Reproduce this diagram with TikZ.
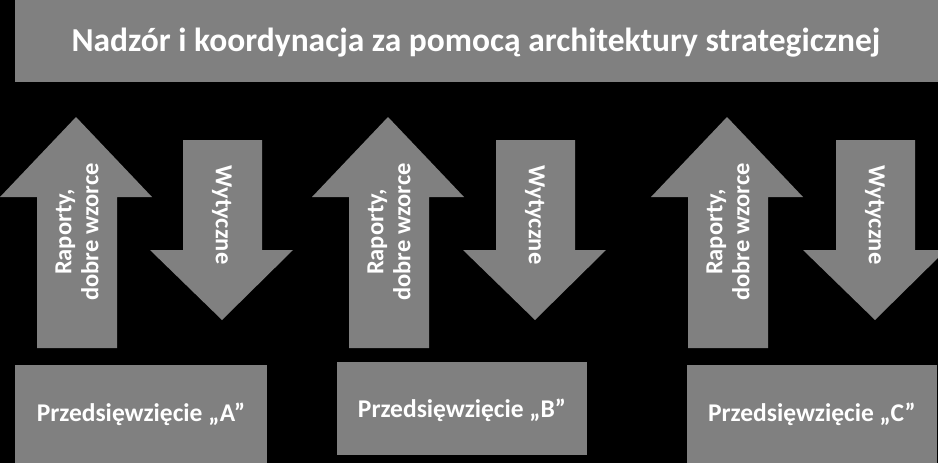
\documentclass[tikz,border=0pt]{standalone}
\usepackage{fontspec}
\setmainfont{Carlito}
\begin{document}
\begin{tikzpicture}[x=1pt,y=-1pt,
  lbl/.style={text=white,align=center}]
\definecolor{gray}{HTML}{808080}
\fill[black] (0,0) rectangle (938,463);
\useasboundingbox (0,0) rectangle (938,463);
\fill[gray] (15,0) rectangle (938,82);
\node[lbl,font=\fontsize{33.5}{38}\selectfont\bfseries] (title) at (476,43) {Nadzór i koordynacja za pomocą architektury strategicznej};
\newcommand\uparr[3]{%
  \fill[gray] (#1+37,348) -- (#1+37,197) -- (#1,197) -- (#1+76,117) -- (#1+152,197) -- (#1+117,197) -- (#1+117,348) -- cycle;
  \node[lbl,rotate=90,font=\fontsize{24.5}{27}\selectfont\bfseries] (#3) at (#1+77,232) {Raporty,\\dobre wzorce};}
\newcommand\downarr[2]{%
  \fill[gray] (#1+33,140) -- (#1+112,140) -- (#1+112,250) -- (#1+143,250) -- (#1+72,320) -- (#1,250) -- (#1+33,250) -- cycle;
  \node[lbl,rotate=-90,font=\fontsize{24.5}{27}\selectfont\bfseries] (#2) at (#1+72,215) {Wytyczne};}
\uparr{0}{}{ua}
\downarr{150}{da}
\uparr{312}{}{ub}
\downarr{463}{db}
\uparr{651}{}{uc}
\downarr{803}{dc}
\fill[gray] (15,365) rectangle (267,463);
\node[lbl,font=\fontsize{25.5}{29}\selectfont\bfseries] (pa) at (141,414) {Przedsięwzięcie „A”};
\fill[gray] (337,362) rectangle (587,455);
\node[lbl,font=\fontsize{25.5}{29}\selectfont\bfseries] (pb) at (462,410) {Przedsięwzięcie „B”};
\fill[gray] (687,365) rectangle (937,463);
\node[lbl,font=\fontsize{25.5}{29}\selectfont\bfseries] (pc) at (812,414) {Przedsięwzięcie „C”};
\end{tikzpicture}
\end{document}
